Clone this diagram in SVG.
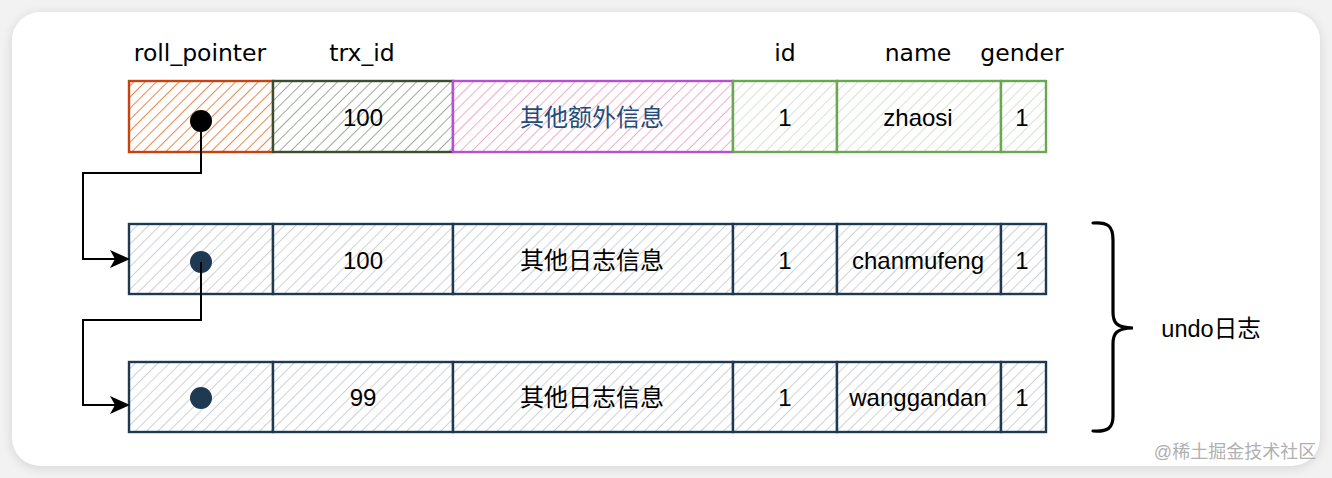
<svg xmlns="http://www.w3.org/2000/svg" width="1332" height="478" viewBox="0 0 1332 478">
<defs>
<filter id="sh" x="-5%" y="-10%" width="110%" height="120%">
<feGaussianBlur stdDeviation="6"/>
</filter>
<pattern id="hOr" width="8" height="8" patternUnits="userSpaceOnUse" patternTransform="rotate(45)"><rect width="8" height="8" fill="#fff"/><line x1="0" y1="0" x2="0" y2="8" stroke="#ec7a36" stroke-width="1.8"/></pattern>
<pattern id="hGr" width="8" height="8" patternUnits="userSpaceOnUse" patternTransform="rotate(45)"><rect width="8" height="8" fill="#fff"/><line x1="0" y1="0" x2="0" y2="8" stroke="#8a9682" stroke-width="1.6"/></pattern>
<pattern id="hPk" width="8" height="8" patternUnits="userSpaceOnUse" patternTransform="rotate(45)"><rect width="8" height="8" fill="#fff"/><line x1="0" y1="0" x2="0" y2="8" stroke="#ee92b8" stroke-width="1.5"/></pattern>
<pattern id="hLg" width="8" height="8" patternUnits="userSpaceOnUse" patternTransform="rotate(45)"><rect width="8" height="8" fill="#fff"/><line x1="0" y1="0" x2="0" y2="8" stroke="#cbd5c4" stroke-width="1.4"/></pattern>
<pattern id="hGy" width="8" height="8" patternUnits="userSpaceOnUse" patternTransform="rotate(45)"><rect width="8" height="8" fill="#fff"/><line x1="0" y1="0" x2="0" y2="8" stroke="#b9bec3" stroke-width="1.4"/></pattern>
<marker id="arr" viewBox="0 0 20 20" refX="18" refY="10" markerWidth="20" markerHeight="20" markerUnits="userSpaceOnUse" orient="auto">
<path d="M0,1 L20,10 L0,19 L5,10 Z" fill="#000"/>
</marker>
</defs>
<style>
text{font-family:"Liberation Sans","Noto Sans CJK SC",sans-serif;text-anchor:middle;dominant-baseline:central}
.hd{font-family:"DejaVu Sans","Liberation Sans",sans-serif;font-size:23.5px;fill:#000}
.v{font-size:24px;fill:#000}
.c{stroke-width:2.4}
.nv rect{stroke:#1e3a52;fill:url(#hGy)}
.g rect{stroke:#6aa84f;fill:url(#hLg)}
.con{fill:none;stroke:#000;stroke-width:2}
</style>
<rect width="1332" height="478" fill="#f2f2f2"/>
<rect x="12" y="14" width="1308" height="454" rx="28" fill="#000" opacity="0.12" filter="url(#sh)"/>
<rect x="12" y="12" width="1308" height="454" rx="28" fill="#fff"/>

<g id="headers">
<text class="hd" x="200" y="53">roll_pointer</text>
<text class="hd" x="362" y="53">trx_id</text>
<text class="hd" x="785" y="53">id</text>
<text class="hd" x="918" y="53">name</text>
<text class="hd" x="1022" y="53">gender</text>
</g>

<g id="row1">
<rect class="c" x="129" y="81" width="144" height="71" fill="url(#hOr)" stroke="#c9410f"/>
<rect class="c" x="273" y="81" width="180" height="71" fill="url(#hGr)" stroke="#3b4d2c"/>
<rect class="c" x="453" y="81" width="280" height="71" fill="url(#hPk)" stroke="#b44fd6"/>
<g class="g">
<rect class="c" x="733" y="81" width="104" height="71"/>
<rect class="c" x="837" y="81" width="164" height="71"/>
<rect class="c" x="1001" y="81" width="45" height="71"/>
</g>
<circle cx="201" cy="121" r="11" fill="#000"/>
<text class="v" x="363" y="117">100</text>
<text class="v" x="592" y="117" style="fill:#1e4d7a">其他额外信息</text>
<text class="v" x="785" y="117">1</text>
<text class="v" x="918" y="117">zhaosi</text>
<text class="v" x="1022" y="117">1</text>
</g>

<g id="row2" class="nv">
<rect class="c" x="129" y="224" width="144" height="70"/>
<rect class="c" x="273" y="224" width="180" height="70"/>
<rect class="c" x="453" y="224" width="280" height="70"/>
<rect class="c" x="733" y="224" width="104" height="70"/>
<rect class="c" x="837" y="224" width="164" height="70"/>
<rect class="c" x="1001" y="224" width="45" height="70"/>
<circle cx="201" cy="262" r="11" fill="#1e3a52"/>
<text class="v" x="363" y="260">100</text>
<text class="v" x="592" y="260">其他日志信息</text>
<text class="v" x="785" y="260">1</text>
<text class="v" x="918" y="260">chanmufeng</text>
<text class="v" x="1022" y="260">1</text>
</g>

<g id="row3" class="nv">
<rect class="c" x="129" y="362" width="144" height="70"/>
<rect class="c" x="273" y="362" width="180" height="70"/>
<rect class="c" x="453" y="362" width="280" height="70"/>
<rect class="c" x="733" y="362" width="104" height="70"/>
<rect class="c" x="837" y="362" width="164" height="70"/>
<rect class="c" x="1001" y="362" width="45" height="70"/>
<circle cx="201" cy="398" r="11" fill="#1e3a52"/>
<text class="v" x="363" y="397">99</text>
<text class="v" x="592" y="397">其他日志信息</text>
<text class="v" x="785" y="397">1</text>
<text class="v" x="918" y="397">wanggandan</text>
<text class="v" x="1022" y="397">1</text>
</g>

<g id="connectors">
<path class="con" d="M201,121 V173 H83 V259 H128" marker-end="url(#arr)"/>
<path class="con" d="M201,262 V320 H83 V405 H128" marker-end="url(#arr)"/>
</g>

<g id="brace">
<path d="M1093,223 C1108,222 1113,226 1113,240 L1113,312 C1113,322 1116,328 1133,328 C1116,328 1113,334 1113,344 L1113,416 C1113,428 1108,432 1093,431" fill="none" stroke="#000" stroke-width="3.2" stroke-linecap="round"/>
<text x="1211" y="329" style="font-size:23.5px;fill:#000">undo日志</text>
</g>

<text x="1235" y="452" style="font-size:18px;fill:#b0b0b0">@稀土掘金技术社区</text>
</svg>
